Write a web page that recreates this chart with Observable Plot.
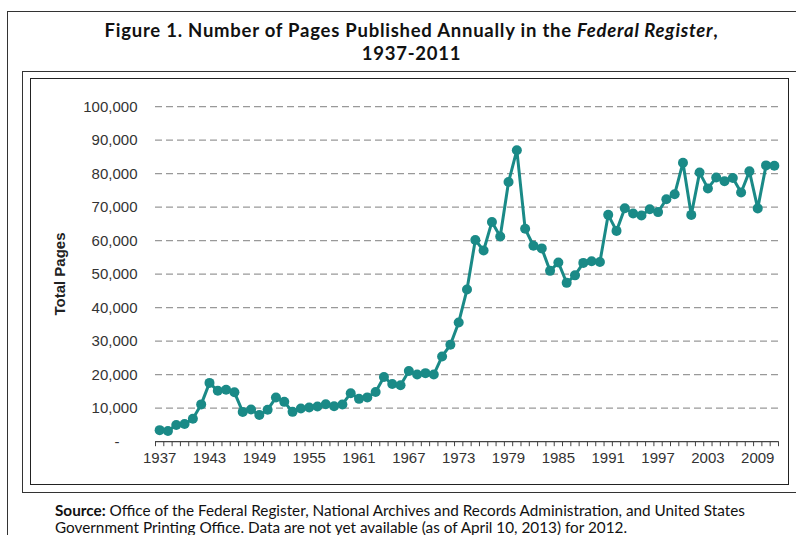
<!DOCTYPE html>
<html>
<head>
<meta charset="utf-8">
<script src="https://cdn.jsdelivr.net/npm/d3@7"></script>
<script src="https://cdn.jsdelivr.net/npm/@observablehq/plot@0.6"></script>
<style>
  html, body { margin: 0; padding: 0; background: #fff; }
  body { width: 796px; height: 535px; position: relative; overflow: hidden; }
  .frame { position: absolute; box-sizing: border-box; }
  #outer { left: 7px; top: 11px; width: 820px; height: 600px; border: 1.5px solid #333; }
  #mid { left: 22px; top: 71px; width: 800px; height: 422px; border: 1.5px solid #333; }
  #inner { left: 30px; top: 78px; width: 759px; height: 407px; border: 1.5px solid #222; background: #fff; }
  #title { position: absolute; left: 0; top: 19px; width: 823px; text-align: center;
           font-family: Lato, "Open Sans", sans-serif; font-weight: bold; font-size: 18.5px;
           letter-spacing: 0.75px; line-height: 23px; color: #111; }
  #ylabel { position: absolute; left: 59px; top: 274px; transform: translate(-50%, -50%) rotate(-90deg);
            font-family: "Liberation Sans", Arial, sans-serif; font-weight: bold; font-size: 15px;
            color: #222; white-space: nowrap; }
  #chart { position: absolute; left: 30px; top: 79px; }
  #source { position: absolute; left: 55px; top: 502px; font-family: Lato, "Open Sans", sans-serif;
            font-size: 15.3px; line-height: 17px; color: #111; white-space: nowrap; }
</style>
</head>
<body>
<div class="frame" id="outer"></div>
<div class="frame" id="mid"></div>
<div class="frame" id="inner"></div>
<div id="title">Figure 1. Number of Pages Published Annually in the <i>Federal Register</i>,<br>1937-2011</div>
<div id="chart"></div>
<div id="ylabel">Total Pages</div>
<div id="source"><b>Source:</b> Office of the Federal Register, National Archives and Records Administration, and United States<br>Government Printing Office. Data are not yet available (as of April 10, 2013) for 2012.</div>
<script>
const years = [1937,1938,1939,1940,1941,1942,1943,1944,1945,1946,
  1947,1948,1949,1950,1951,1952,1953,1954,1955,1956,
  1957,1958,1959,1960,1961,1962,1963,1964,1965,1966,
  1967,1968,1969,1970,1971,1972,1973,1974,1975,1976,
  1977,1978,1979,1980,1981,1982,1983,1984,1985,1986,
  1987,1988,1989,1990,1991,1992,1993,1994,1995,1996,
  1997,1998,1999,2000,2001,2002,2003,2004,2005,2006,
  2007,2008,2009,2010,2011];
const pages = [3450,3194,5007,5307,6877,11134,17553,15194,15508,14736,
  8902,9608,7952,9562,13175,11896,8912,9910,10196,10528,
  11156,10579,11116,14479,12792,13226,14842,19304,17206,16850,
  21088,20072,20466,20036,25442,28924,35592,45422,60221,57072,
  65603,61261,77498,87012,63554,58494,57704,50998,53480,47418,
  49654,53376,53842,53620,67716,62928,69688,68108,67518,69368,
  68530,72356,73880,83294,67702,80332,75606,78852,77777,78724,
  74408,80700,69644,82480,82351];
const xTickLabels = [1937,1943,1949,1955,1961,1967,1973,1979,1985,1991,1997,2003,2009];
const yGridTicks = [10000,20000,30000,40000,50000,60000,70000,80000,90000,100000];
const yZeroTick = [0];

const data = years.map((y, i) => ({year: y, pages: pages[i]}));
const boundaries = [...years.map(y => y - 0.5), years[years.length - 1] + 0.5];

const teal = "#1a8a87";
const chart = Plot.plot({
  width: 757,
  height: 405,
  marginLeft: 125,
  marginRight: 9,
  marginTop: 27.2,
  marginBottom: 42.8,
  style: {fontFamily: "'Liberation Sans', Arial, sans-serif", fontSize: "15px", color: "#333", background: "transparent"},
  x: {domain: [1936.5, 2011.5]},
  y: {domain: [0, 100000]},
  marks: [
    Plot.ruleY(yGridTicks, {stroke: "#999", strokeWidth: 1.2, strokeDasharray: "7,4"}),
    Plot.ruleY(yZeroTick, {stroke: "#444", strokeWidth: 1.3}),
    Plot.axisX({ticks: boundaries, tickSize: 5, tickFormat: () => "", stroke: "#444", label: null}),
    Plot.axisX({ticks: xTickLabels, tickSize: 0, tickPadding: 11, tickFormat: d => String(d), fill: "#333", label: null, fontSize: 15}),
    Plot.axisY({ticks: yGridTicks, tickSize: 0, tickPadding: 18, tickFormat: d3.format(","), fill: "#333", label: null, fontSize: 15}),
    Plot.axisY({ticks: yZeroTick, tickSize: 0, tickPadding: 36, tickFormat: () => "-", fill: "#333", label: null, fontSize: 15}),
    Plot.line(data, {x: "year", y: "pages", stroke: teal, strokeWidth: 3}),
    Plot.dot(data, {x: "year", y: "pages", fill: teal, r: 5})
  ]
});
document.getElementById("chart").appendChild(chart);
</script>
</body>
</html>
